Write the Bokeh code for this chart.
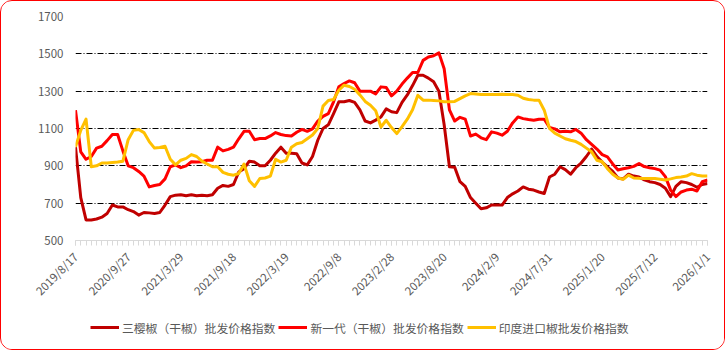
import math
from bokeh.plotting import figure
from bokeh.layouts import column
from bokeh.models import FixedTicker, Legend, LegendItem, ColumnDataSource
from bokeh.embed import file_html
from bokeh.resources import INLINE

# ---- data (index positions on a category axis, 10 points per labelled interval) ----
tick_labels = ["2019/8/17", "2020/9/27", "2021/3/29", "2021/9/18", "2022/3/19",
               "2022/9/8", "2023/2/28", "2023/8/20", "2024/2/9", "2024/7/31",
               "2025/1/20", "2025/7/12", "2026/1/1"]

sanying = [1000, 730, 610, 610, 615, 625, 645, 690, 680, 680,
           665, 655, 636, 650, 648, 645, 650, 690, 735, 743,
           745, 740, 745, 740, 742, 740, 745, 780, 795, 790,
           800, 867, 885, 925, 920, 900, 900, 930, 968, 1000,
           968, 968, 965, 915, 905, 950, 1037, 1100, 1120, 1180,
           1243, 1243, 1250, 1240, 1200, 1140, 1130, 1145, 1162, 1205,
           1190, 1185, 1240, 1280, 1330, 1385, 1385, 1370, 1350, 1300,
           1120, 895, 893, 815, 790, 730, 700, 670, 675, 690,
           690, 690, 730, 750, 765, 787, 775, 770, 760, 752,
           840, 855, 895, 880, 855, 890, 915, 950, 990, 950,
           920, 895, 870, 835, 830, 855, 845, 840, 825, 815,
           810, 800, 780, 735, 790, 815, 810, 800, 785, 800,
           805]

xinyidai = [1198, 975, 935, 950, 995, 1005, 1035, 1068, 1068, 980,
            900, 890, 870, 845, 787, 795, 800, 830, 895, 905,
            890, 900, 922, 920, 922, 930, 930, 1000, 980, 988,
            1000, 1045, 1085, 1085, 1040, 1046, 1046, 1060, 1078, 1068,
            1062, 1060, 1080, 1095, 1085, 1098, 1140, 1165, 1180, 1243,
            1323, 1341, 1355, 1345, 1300, 1300, 1300, 1285, 1323, 1320,
            1275, 1300, 1338, 1370, 1400, 1400, 1465, 1483, 1490, 1505,
            1420, 1200, 1140, 1160, 1150, 1060, 1070, 1050, 1040, 1082,
            1075, 1064, 1085, 1130, 1162, 1153, 1148, 1144, 1150, 1150,
            1105, 1098, 1082, 1085, 1082, 1095, 1075, 1040, 1015, 990,
            960, 948, 910, 878, 884, 890, 897, 912, 896, 890,
            885, 877, 842, 770, 735, 760, 770, 775, 765, 815,
            824]

yindu = [1002, 1090, 1150, 895, 900, 915, 915, 918, 920, 925,
         1040, 1090, 1095, 1078, 1030, 995, 998, 1005, 935, 905,
         930, 940, 960, 950, 925, 910, 895, 895, 865, 855,
         850, 859, 910, 820, 790, 832, 835, 845, 935, 920,
         930, 1000, 1018, 1025, 1045, 1065, 1100, 1220, 1250, 1255,
         1305, 1332, 1325, 1310, 1280, 1245, 1225, 1195, 1108, 1144,
         1105, 1073, 1110, 1150, 1200, 1278, 1252, 1252, 1250, 1248,
         1243, 1243, 1245, 1260, 1275, 1287, 1285, 1282, 1282, 1282,
         1282, 1283, 1282, 1282, 1278, 1262, 1255, 1252, 1252, 1198,
         1100, 1075, 1060, 1045, 1037, 1030, 1015, 995, 975, 930,
         922, 885, 855, 835, 828, 850, 835, 833, 832, 832,
         832, 828, 824, 830, 837, 840, 845, 858, 850, 845,
         845]

series_names = ["三樱椒（干椒）批发价格指数", "新一代（干椒）批发价格指数", "印度进口椒批发价格指数"]
series_colors = ["#C00000", "#FF0000", "#FFC000"]
y_ticks = [500, 700, 900, 1100, 1300, 1500, 1700]

idx = list(range(len(sanying)))
step = 10
src = ColumnDataSource(dict(x=idx, a=sanying, b=xinyidai, c=yindu))

FONT = "Noto Sans CJK SC"
GREY = "#595959"

p = figure(width=723, height=305, x_range=(0, len(idx) - 1), y_range=(500, 1700),
           output_backend="svg", toolbar_location=None,
           min_border_left=74, min_border_right=17, min_border_top=15, min_border_bottom=66)
p.outline_line_color = None
p.background_fill_color = "white"
p.border_fill_color = "white"

# grid
p.xgrid.visible = False
p.ygrid.ticker = FixedTicker(ticks=y_ticks[1:])
p.ygrid.grid_line_color = "black"
p.ygrid.grid_line_width = 1
p.ygrid.grid_line_dash = "6 2 1 2"

# y axis
p.yaxis.ticker = FixedTicker(ticks=y_ticks)
p.yaxis.axis_line_color = None
p.yaxis.major_tick_line_color = None
p.yaxis.minor_tick_line_color = None
p.yaxis.major_label_standoff = 6
p.yaxis.major_label_text_font = FONT
p.yaxis.major_label_text_font_size = "11.5px"
p.yaxis.major_label_text_color = GREY

# x axis
major = list(range(0, len(idx), step))
p.xaxis.ticker = FixedTicker(ticks=major, minor_ticks=idx)
p.xaxis.major_label_overrides = {m: tick_labels[i] for i, m in enumerate(major)}
p.xaxis.major_label_orientation = math.pi / 4
p.xaxis.axis_line_color = "#D9D9D9"
p.xaxis.major_tick_line_color = "#D9D9D9"
p.xaxis.minor_tick_line_color = "#D9D9D9"
p.xaxis.major_tick_in = 0
p.xaxis.major_tick_out = 5
p.xaxis.minor_tick_in = 0
p.xaxis.minor_tick_out = 5
p.xaxis.major_label_standoff = 9
p.xaxis.major_label_text_font = FONT
p.xaxis.major_label_text_font_size = "11.5px"
p.xaxis.major_label_text_color = GREY

for col, color in zip(["a", "b", "c"], series_colors):
    p.line("x", col, source=src, line_color=color, line_width=3, line_join="round")

# legend panel (separate small figure so the legend is not clipped)
lg = figure(width=723, height=43, x_range=(0, 1), y_range=(0, 1),
            output_backend="svg", toolbar_location=None,
            min_border=0, min_border_left=74, min_border_right=17,
            min_border_top=0, min_border_bottom=0)
lg.axis.visible = False
lg.grid.visible = False
lg.outline_line_color = None
lg.background_fill_color = "white"
lg.border_fill_color = "white"
# legend-only lines, kept outside the visible range of this small panel
leg_renderers = [lg.line(x=[5, 6], y=[5, 6], line_color=c, line_width=3) for c in series_colors]

legend = Legend(items=[LegendItem(label=n, renderers=[r]) for n, r in zip(series_names, leg_renderers)],
                orientation="horizontal", location=(15, 12))
legend.padding = 0
legend.margin = 0
legend.spacing = 3
legend.glyph_width = 29
legend.glyph_height = 20
legend.label_height = 20
legend.label_standoff = 3
legend.label_text_font = FONT
legend.label_text_font_size = "11.8px"
legend.label_text_color = GREY
legend.border_line_color = None
legend.background_fill_alpha = 0
lg.add_layout(legend, "center")

layout = column(p, lg, spacing=0)
layout.styles = {"border": "1.5px solid #FF0000", "border-radius": "12px", "overflow": "hidden",
                 "background-color": "white"}

open("out.html", "w").write(file_html(layout, INLINE))
